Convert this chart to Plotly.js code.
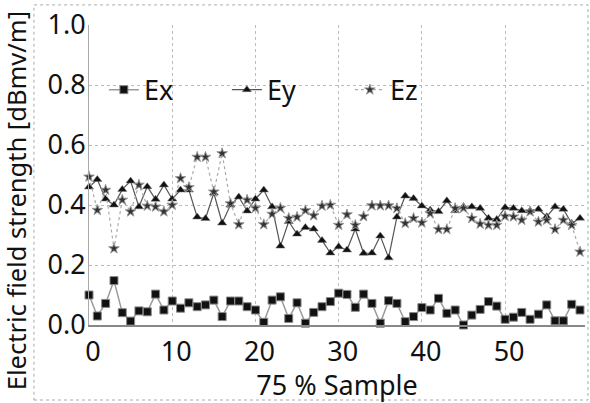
<!DOCTYPE html>
<html>
<head>
<meta charset="utf-8">
<script src="https://cdn.plot.ly/plotly-3.0.1.min.js"></script>
<style>html,body{margin:0;padding:0;background:#fff;}#chart{width:590px;height:403px;}</style>
</head>
<body>
<div id="chart"></div>
<script>
// sample index 0..59
const samples = [0,1,2,3,4,5,6,7,8,9,10,11,12,13,14,15,16,17,18,19,20,21,22,23,24,25,26,27,28,29,30,31,32,33,34,35,36,37,38,39,40,41,42,43,44,45,46,47,48,49,50,51,52,53,54,55,56,57,58,59];

const ex = [0.100,0.030,0.072,0.148,0.041,0.013,0.047,0.044,0.103,0.050,
            0.080,0.056,0.074,0.061,0.067,0.083,0.028,0.080,0.080,0.061,
            0.050,0.009,0.083,0.094,0.022,0.074,0.006,0.042,0.061,0.078,
            0.106,0.102,0.059,0.103,0.072,0.006,0.081,0.072,0.011,0.028,
            0.058,0.050,0.089,0.039,0.050,0.000,0.033,0.052,0.078,0.063,
            0.019,0.026,0.042,0.019,0.036,0.067,0.014,0.014,0.069,0.050];

const ey = [0.460,0.485,0.420,0.400,0.452,0.480,0.394,0.461,0.419,0.467,
            0.420,0.450,0.450,0.360,0.355,0.440,0.340,0.400,0.427,0.380,
            0.420,0.450,0.394,0.263,0.345,0.303,0.325,0.320,0.282,0.240,
            0.261,0.250,0.320,0.239,0.240,0.297,0.224,0.360,0.430,0.422,
            0.397,0.383,0.378,0.414,0.381,0.394,0.394,0.389,0.356,0.352,
            0.392,0.389,0.381,0.381,0.386,0.361,0.394,0.386,0.339,0.356];

const ez = [0.494,0.383,0.450,0.255,0.417,0.378,0.467,0.397,0.394,0.378,
            0.400,0.489,0.459,0.560,0.560,0.444,0.572,0.405,0.335,0.417,
            0.390,0.335,0.370,0.390,0.356,0.360,0.382,0.365,0.397,0.400,
            0.333,0.368,0.333,0.362,0.398,0.398,0.398,0.389,0.339,0.356,
            0.341,0.372,0.319,0.319,0.389,0.390,0.356,0.337,0.333,0.333,
            0.363,0.361,0.350,0.378,0.344,0.350,0.319,0.350,0.333,0.244];

const seriesNames = ['Ex','Ey','Ez'];
const xTicks = [0,10,20,30,40,50];
const yTicks = [0.0,0.2,0.4,0.6,0.8,1.0];
const xTitle = '75 % Sample';
const yTitle = 'Electric field strength [dBmv/m]';

const FONT = 'Noto Sans, Open Sans, DejaVu Sans, sans-serif';
const FS = 27;

const traces = [
  {x: samples, y: ex, name: seriesNames[0], mode: 'lines+markers', cliponaxis: false,
   line: {color: '#9a9a9a', width: 1.5},
   marker: {symbol: 'square', size: 8, color: '#111', line: {color: '#888', width: 1}}},
  {x: samples, y: ey, name: seriesNames[1], mode: 'lines+markers', cliponaxis: false,
   line: {color: '#555', width: 1.2},
   marker: {symbol: 'triangle-up', size: 8, color: '#111', line: {color: '#777', width: 0.5}}},
  {x: samples, y: ez, name: seriesNames[2], mode: 'lines+markers', cliponaxis: false,
   line: {color: '#aaa', width: 1.2, dash: 'dot'},
   marker: {symbol: 'star', size: 8, color: '#333', line: {color: '#999', width: 1}}}
];

const layout = {
  width: 590, height: 403,
  margin: {l: 89, r: 5, t: 25, b: 78},
  paper_bgcolor: '#fff', plot_bgcolor: '#fff',
  font: {family: FONT, size: FS, color: '#111'},
  showlegend: true,
  legend: {orientation: 'h', x: 0.03, y: 0.783, xanchor: 'left', yanchor: 'middle',
           bgcolor: 'rgba(0,0,0,0)', font: {size: FS, family: FONT, color: '#111'},
           entrywidth: 78, entrywidthmode: 'pixels'},
  xaxis: {range: [0, 59.6], tickvals: xTicks, ticktext: xTicks.map(String),
          showgrid: true, gridcolor: '#bbb', griddash: 'dot', gridwidth: 1,
          zeroline: false, showline: true, linecolor: '#888', linewidth: 1.5,
          ticks: '', tickfont: {size: FS}, ticklabelshift: 4, ticklabelstandoff: 2,
          title: {text: xTitle, font: {size: FS}, standoff: 0}},
  yaxis: {range: [0, 1.0], tickvals: yTicks, ticktext: yTicks.map(v => v.toFixed(1)),
          showgrid: true, gridcolor: '#bbb', griddash: 'dot', gridwidth: 1,
          zeroline: false, showline: true, linecolor: '#aaa', linewidth: 1,
          ticks: '', tickfont: {size: FS}, ticklabelstandoff: -3},
  annotations: [
    {text: yTitle, xref: 'paper', yref: 'paper', x: -0.147, y: 0.413,
     xanchor: 'center', yanchor: 'middle', textangle: -90, showarrow: false,
     font: {size: 25.5, family: FONT, color: '#111'}}
  ],
  shapes: [
    {type: 'rect', xref: 'paper', yref: 'paper', x0: -0.111, x1: 1.006, y0: -0.25, y1: 1.067,
     line: {color: '#aaa', width: 1, dash: 'dot'}, fillcolor: 'rgba(0,0,0,0)', layer: 'below'}
  ]
};

Plotly.newPlot('chart', traces, layout, {displayModeBar: false, staticPlot: true});
</script>
</body>
</html>
